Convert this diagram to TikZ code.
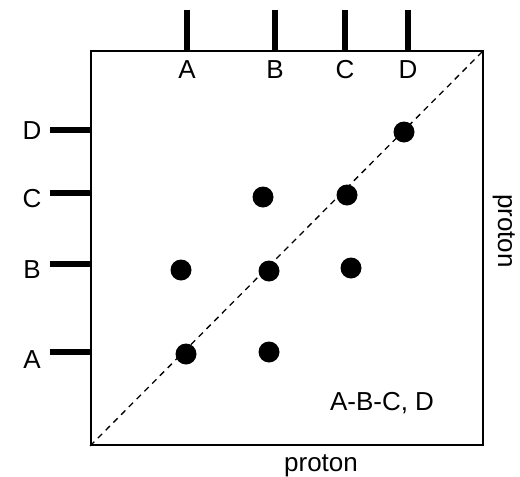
\documentclass[tikz,border=0pt]{standalone}
\usepackage{fontspec}
\setmainfont{Liberation Sans}
\usetikzlibrary{positioning}

\begin{document}
\begin{tikzpicture}[
    x=1pt, y=-1pt,
    frame/.style={draw, line width=1.8pt, minimum width=392pt, minimum height=394pt, inner sep=0pt},
    peak/.style={circle, fill=black, minimum size=21pt, inner sep=0pt},
    lbl/.style={font=\fontsize{26}{30}\selectfont, inner sep=0pt, anchor=base},
    tick/.style={line width=5.5pt},
    diag/.style={dashed, line width=1.3pt, dash pattern=on 6pt off 5pt}
]
\useasboundingbox (0,0) rectangle (520,477);
\node[frame] (box) at (287,248) {};
\draw[diag] (box.south west) -- (box.north east);
% top spin systems
\coordinate (ta) at (187,10); \coordinate (tb) at (275,10);
\coordinate (tc) at (345,10); \coordinate (td) at (408,10);
\draw[tick] (ta) -- (ta |- box.north);
\draw[tick] (tb) -- (tb |- box.north);
\draw[tick] (tc) -- (tc |- box.north);
\draw[tick] (td) -- (td |- box.north);
\node[lbl] (xa) at (187,78) {A};
\node[lbl] (xb) at (275,78) {B};
\node[lbl] (xc) at (345,78) {C};
\node[lbl] (xd) at (408,78) {D};
% left spin systems
\coordinate (la) at (50,352); \coordinate (lb) at (50,264);
\coordinate (lc) at (50,193); \coordinate (ld) at (50,130);
\draw[tick] (la) -- (la -| box.west);
\draw[tick] (lb) -- (lb -| box.west);
\draw[tick] (lc) -- (lc -| box.west);
\draw[tick] (ld) -- (ld -| box.west);
\node[lbl] (ya) at (32,368) {A};
\node[lbl] (yb) at (32,278) {B};
\node[lbl] (yc) at (32,207) {C};
\node[lbl] (yd) at (32,139) {D};
% cross peaks
\node[peak] (dd) at (404,132) {};
\node[peak] (cb) at (263,197) {};
\node[peak] (cc) at (347,195) {};
\node[peak] (ba) at (181,270) {};
\node[peak] (bb) at (269,271) {};
\node[peak] (bc) at (351,268) {};
\node[peak] (aa) at (186,354) {};
\node[peak] (ab) at (269,352) {};
\node[lbl] (sys) at (382,410) {A-B-C, D};
\node[lbl] (xaxis) at (321,471) {proton};
\node[lbl, rotate=-90] (yaxis) at (498,231) {proton};
\end{tikzpicture}
\end{document}
